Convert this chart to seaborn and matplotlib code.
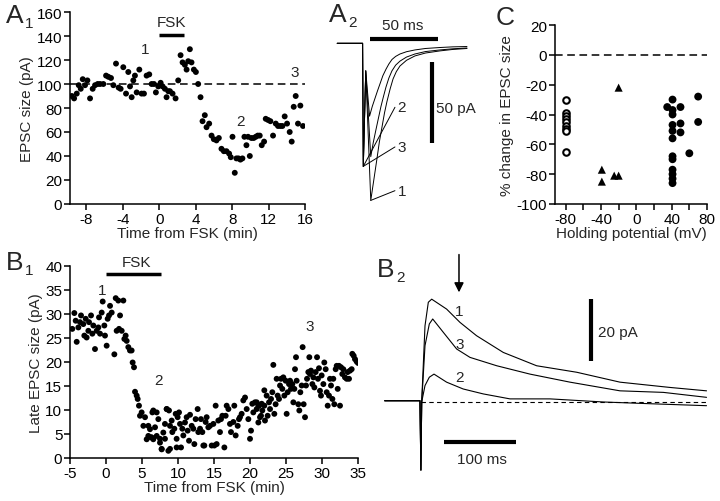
import matplotlib
matplotlib.use('Agg')
import matplotlib.pyplot as plt
import seaborn as sns
import pandas as pd

# ---------------- A1: EPSC size over time (FSK) ----------------
a1_time = [-9.6, -9.35, -9.06, -8.84, -8.62, -8.4, -8.15, -7.89, -7.6, -7.31,
           -7.05, -6.76, -6.5, -6.14, -5.84, -5.59, -5.3, -5.04, -4.75, -4.46,
           -4.24, -3.95, -3.65, -3.4, -3.21, -3.03, -2.85, -2.67, -2.48, -2.19,
           -1.94, -1.68, -1.39, -1.1, -0.84, -0.58, -0.37, -0.11, 0.15, 0.37,
           0.62, 0.8, 0.99, 1.17, 1.46, 1.79, 2.08, 2.34, 2.56, 2.81,
           3.0, 3.18, 3.36, 3.54, 3.8, 4.02, 4.27, 4.53, 4.75, 5.0,
           5.19, 5.48, 5.74, 5.99, 6.28, 6.54, 6.83, 7.09, 7.38, 7.67,
           7.85, 8.04, 8.29, 8.47, 8.69, 8.91, 9.13, 9.35, 9.57, 9.75,
           9.94, 10.12, 10.37, 10.59, 10.81, 11.03, 11.25, 11.51, 11.69, 11.95,
           12.2, 12.49, 12.79, 13.04, 13.3, 13.52, 13.77, 14.03, 14.32, 14.54,
           14.76, 14.98, 15.23, 15.49, 15.78]
a1_epsc = [90, 88, 92, 99, 96, 104, 99, 103, 88, 96,
           99, 100, 100, 100, 107, 106, 105, 99, 117, 97,
           96, 114, 92, 110, 98, 89, 103, 107, 93, 112,
           92, 92, 107, 108, 100, 100, 93, 98, 101, 98,
           96, 89, 94, 94, 92, 88, 103, 124, 118, 116,
           112, 119, 129, 118, 112, 110, 100, 89, 69, 74,
           64, 67, 57, 54, 53, 55, 46, 44, 44, 42,
           39, 56, 26, 38, 38, 37, 38, 56, 49, 56,
           40, 55, 55, 56, 57, 57, 49, 52, 71, 70,
           69, 57, 67, 65, 65, 65, 73, 67, 60, 52,
           81, 90, 67, 82, 65]

# ---------------- A2: averaged EPSC traces (ms, pA) ----------------
a2_t1 = [-19, -0.3, 0.2, 2.0, 5.7, 8.0, 10.3, 12.0, 13.9, 15.8, 17.6, 20.0, 22.1,
         24.5, 27.2, 32.0, 38.2, 46.0, 56.6, 66.0, 76.5]
a2_i1 = [0, 0, -76, -17, -97, -84, -71, -61, -52, -43, -36, -28, -22,
         -17.5, -14, -10.5, -7.8, -6.0, -4.7, -3.8, -3.2]
a2_t3 = [-19, -0.3, 0.2, 2.0, 5.7, 7.6, 9.6, 11.4, 13.2, 15.0, 16.9, 19.0, 21.3,
         24.0, 27.2, 32.0, 38.2, 46.0, 56.6, 66.0, 76.5]
a2_i3 = [0, 0, -76, -17, -70, -61, -53, -46, -39, -33, -27, -21.5, -17,
         -13.5, -11, -8.5, -6.6, -5.1, -4.1, -3.4, -2.9]
a2_t2 = [-19, -0.3, 0.2, 2.0, 4.8, 6.8, 8.8, 10.6, 12.5, 14.6, 16.9, 19.0, 21.3,
         24.0, 27.2, 32.0, 38.2, 46.0, 56.6, 66.0, 76.5]
a2_i2 = [0, 0, -76, -17, -45, -39, -34, -29.5, -25, -20, -16, -12.8, -10,
         -8.1, -6.6, -5.2, -4.1, -3.2, -2.6, -2.2, -2.0]

# ---------------- C: % change vs holding potential ----------------
c_open_v = [-80, -80, -80, -80, -80, -80, -80, -80, -80]
c_open_y = [-30, -39, -41, -43, -45, -48, -50, -51, -65]
c_tri_v = [-39, -39, -25, -20, -20]
c_tri_y = [-77, -85, -81, -81, -22]
c_fill_v = [35, 41, 41, 41, 41, 41, 41, 41, 41, 41, 41, 41, 41, 50, 50, 50, 60, 70, 70]
c_fill_y = [-35, -30, -37, -40, -47, -51, -56, -68, -70, -77, -80, -83, -86,
            -35, -46, -52, -66, -28, -45]

# ---------------- B1: late EPSC size over time ----------------
b1_time = [-4.68, -4.4, -4.21, -4.07, -3.84, -3.61, -3.47, -3.15, -3.01, -2.82,
           -2.69, -2.45, -2.36, -2.08, -1.9, -1.76, -1.53, -1.3, -1.06, -0.97,
           -0.83, -0.6, -0.46, -0.23, -0.14, 0.09, 0.23, 0.42, 0.56, 0.79,
           1.16, 1.35, 1.48, 1.71, 1.81, 1.95, 2.18, 2.41, 2.55, 2.73,
           2.87, 3.1, 3.33, 3.56, 3.7, 3.89, 4.03, 4.26, 4.4, 4.58,
           4.72, 4.95, 5.19, 5.42, 5.65, 5.88, 5.88, 6.11, 6.25, 6.34,
           6.44, 6.57, 6.57, 6.81, 7.04, 7.04, 7.27, 7.5, 7.5, 7.73,
           7.73, 7.96, 8.19, 8.19, 8.43, 8.66, 8.43, 8.75, 8.89, 8.89,
           9.12, 9.21, 9.49, 9.68, 9.81, 9.81, 9.95, 10.14, 10.28, 10.42,
           10.6, 10.74, 10.97, 11.2, 11.34, 11.53, 11.67, 11.9, 12.13, 12.27,
           12.45, 12.73, 12.82, 13.06, 13.19, 13.38, 13.52, 13.66, 13.84, 13.98,
           14.21, 14.44, 14.68, 14.91, 15.05, 15.23, 15.37, 15.6, 15.83, 15.97,
           16.16, 16.44, 16.62, 16.76, 17.0, 17.22, 17.36, 17.69, 17.82, 18.01,
           18.29, 18.47, 18.61, 18.84, 19.07, 19.31, 19.54, 19.77, 20.0, 20.14,
           20.32, 20.46, 20.69, 20.93, 21.16, 21.39, 21.62, 21.99,
           20.93, 21.16, 21.25, 21.53, 21.71, 21.99, 22.08, 22.31, 22.45, 22.64,
           22.78, 22.92, 23.1, 23.24, 23.38, 23.56, 23.7, 23.84, 24.03, 24.17,
           24.31, 24.49, 24.63, 24.77, 24.95, 25.09, 25.23, 25.42, 25.56, 25.69,
           25.88, 26.02, 26.16, 26.25, 26.39, 26.48, 26.71, 26.85, 26.99, 27.18,
           27.31, 27.45, 27.64, 27.78, 27.92, 28.1, 28.24, 28.33, 28.47, 28.66,
           28.8, 28.94, 29.12, 29.31, 29.44, 29.58, 29.72, 29.86, 29.95, 30.19,
           30.32, 30.51, 30.65, 30.79, 30.97, 31.11, 31.25, 31.44, 31.57, 31.71,
           31.9, 32.04, 32.18, 32.36, 32.5, 32.64, 32.82, 32.96, 33.19, 33.43,
           33.56, 33.75, 33.89, 34.12, 34.21, 34.4, 34.58, 34.81, 35.0]
b1_late = [26.9, 30.2, 28.6, 24.2, 27.2, 28.3, 29.7, 27.9, 25.5, 29.0,
           25.1, 26.5, 28.3, 29.7, 25.9, 27.6, 22.7, 26.5, 27.2, 29.3,
           25.9, 30.3, 32.6, 27.6, 25.5, 23.4, 29.0, 29.7, 31.7, 30.3,
           21.6, 33.3, 26.5, 32.8, 26.9, 29.7, 26.5, 32.8, 24.8, 25.5,
           24.4, 23.1, 22.4, 22.4, 19.9, 18.9, 13.8, 13.0, 12.3, 10.9,
           8.8, 9.5, 6.7, 8.5, 3.9, 6.7, 4.6, 6.0, 4.3, 4.3,
           9.5, 3.9, 9.9, 6.4, 9.5, 4.6, 8.1, 3.2, 4.0, 1.8,
           1.9, 5.3, 7.1, 4.0, 10.2, 1.5, 10.2, 9.9, 6.7, 1.9,
           7.8, 5.4, 6.1, 9.2, 4.0, 2.2, 8.5, 9.5, 7.1, 2.2,
           6.1, 4.7, 7.4, 8.5, 5.7, 3.6, 9.0, 6.7, 6.1, 2.9,
           8.1, 10.2, 5.4, 6.1, 8.1, 5.4, 2.6, 2.6, 7.5, 8.5,
           6.4, 6.7, 2.6, 7.1, 2.6, 10.9, 2.9, 7.8, 5.4, 8.1,
           8.8, 2.2, 8.8, 10.9, 10.2, 7.1, 5.4, 7.5, 10.9, 4.7,
           6.7, 8.1, 8.5, 9.2, 12.0, 12.6, 10.2, 8.1, 4.0, 5.7,
           11.3, 9.5, 11.6, 10.2, 10.9, 8.5, 11.3, 14.1,
           11.6, 7.4, 10.9, 8.8, 9.9, 10.9, 7.8, 13.0, 8.8, 11.6,
           10.2, 12.3, 13.7, 19.4, 9.2, 11.2, 16.5, 13.0, 12.3, 15.1,
           16.5, 14.4, 16.8, 13.0, 16.1, 9.2, 13.7, 15.4, 16.1, 14.4,
           15.4, 11.6, 14.4, 18.5, 21.0, 16.1, 11.2, 9.9, 13.7, 15.1,
           23.1, 11.2, 8.5, 15.1, 16.5, 17.9, 21.0, 17.5, 18.2, 15.4,
           16.8, 14.7, 17.9, 21.0, 16.5, 18.7, 14.0, 13.0, 17.2, 15.4,
           19.9, 18.5, 13.7, 10.9, 13.0, 16.5, 15.1, 12.3, 16.5, 11.2,
           18.5, 19.2, 14.4, 19.2, 10.9, 18.9, 17.5, 18.5, 16.8, 16.5,
           17.9, 16.5, 18.2, 18.5, 21.7, 21.3, 20.6, 20.1, 19.8]

# ---------------- B2: late EPSC traces (ms, pA) ----------------
b2_t1 = [-50, -1, 0.3, 1.4, 6, 10.6, 15.3, 36, 54.6, 77.6, 114.7, 161, 216.7, 276.8, 346, 397]
b2_i1 = [0.4, 0.4, -22, 0, 24.6, 32.2, 33.2, 30, 25.7, 21.4, 16.0, 11.7, 9.6, 6.4, 4.7, 3.6]
b2_t3 = [-50, -1, 0.3, 1.4, 6, 12, 16.7, 31.4, 50, 68.5, 105.6, 151.8, 207.4, 276.8, 337, 397]
b2_i3 = [0.4, 0.4, -22, 0, 18.2, 25.2, 26.8, 22.5, 17.1, 14.4, 11.7, 9.0, 6.4, 3.6, 3.1, 1.5]
b2_t2 = [-50, -1, 0.3, 1.4, 6, 12, 18.5, 36, 59, 87, 124, 179.6, 253.6, 323, 397]
b2_i2 = [0.4, 0.4, -22, 0, 5.3, 8, 9.0, 6.4, 4.2, 2.6, 1.0, 1.0, 0, -0.6, -1.2]

W, H = 720, 502
FS = 11


def rect(x0, y0, x1, y1):
    # pixel box (top-left origin) -> figure fraction
    return [x0 / W, 1 - y1 / H, (x1 - x0) / W, (y1 - y0) / H]


sns.set_style("ticks")
plt.rcParams['font.family'] = ['Liberation Sans', 'DejaVu Sans']
plt.rcParams['axes.unicode_minus'] = False
plt.rcParams['font.size'] = FS

fig = plt.figure(figsize=(7.2, 5.02), dpi=100)


def style_axes(ax):
    sns.despine(ax=ax)
    for s in ['left', 'bottom']:
        ax.spines[s].set_linewidth(1.1)
        ax.spines[s].set_color('black')
    ax.tick_params(direction='out', length=4, width=1.1, labelsize=FS, colors='black', pad=1.5)


# ---- A1 ----
ax1 = fig.add_axes(rect(70, 13, 305, 205))
sns.scatterplot(x=a1_time, y=a1_epsc, ax=ax1, color='black', s=18, edgecolor='none')
ax1.axhline(100, color='black', lw=1.1, ls=(0, (5, 3)))
ax1.set_xlim(-9.8, 16)
ax1.set_ylim(0, 160)
ax1.set_xticks([-8, -4, 0, 4, 8, 12, 16])
ax1.set_yticks(range(0, 161, 20))
ax1.set_xlabel('Time from FSK (min)', fontsize=FS, labelpad=0)
ax1.set_ylabel('EPSC size (pA)', fontsize=FS, labelpad=2)
ax1.plot([0, 2.74], [141, 141], color='black', lw=2.5, clip_on=False, solid_capstyle='butt')
ax1.text(1.35, 146, 'FSK', ha='center', va='bottom', fontsize=FS)
ax1.text(-1.5, 129, '1', ha='center', va='center', fontsize=FS)
ax1.text(8.9, 69, '2', ha='center', va='center', fontsize=FS)
ax1.text(14.9, 110, '3', ha='center', va='center', fontsize=FS)
style_axes(ax1)

# ---- A2 ----
ax2 = fig.add_axes(rect(330, 20, 475, 215))
for t, i in [(a2_t1, a2_i1), (a2_t3, a2_i3), (a2_t2, a2_i2)]:
    sns.lineplot(x=t, y=i, ax=ax2, color='black', lw=0.7, sort=False, estimator=None)
for lbl, t, i, ly in [('1', a2_t1, a2_i1, -91), ('3', a2_t3, a2_i3, -64), ('2', a2_t2, a2_i2, -39.5)]:
    k = i.index(min(i))
    ax2.plot([t[k], 23.5], [i[k], ly], color='black', lw=0.7)
    ax2.text(25.5, ly, lbl, ha='left', va='center', fontsize=FS)
ax2.plot([5.1, 5.1 + 50], [2.7, 2.7], color='black', lw=3, solid_capstyle='butt')
ax2.text(29.5, 7, '50 ms', ha='center', va='bottom', fontsize=FS)
ax2.plot([50.5, 50.5], [-11.7, -11.7 - 50], color='black', lw=3, solid_capstyle='butt')
ax2.text(53.5, -40, '50 pA', ha='left', va='center', fontsize=FS)
ax2.set_xlim(-24.3, 82.4)
ax2.set_ylim(-105.4, 15)
ax2.axis('off')

# ---- C ----
ax3 = fig.add_axes(rect(555, 26, 707, 205))
sns.scatterplot(x=c_open_v, y=c_open_y, ax=ax3, marker='o', s=22, facecolor='white',
                edgecolor='black', linewidth=1.5)
sns.scatterplot(x=c_tri_v, y=c_tri_y, ax=ax3, marker='^', s=34, color='black', edgecolor='none')
sns.scatterplot(x=c_fill_v, y=c_fill_y, ax=ax3, marker='o', s=32, color='black', edgecolor='none')
ax3.axhline(0, color='black', lw=1.1, ls=(0, (5, 3)))
ax3.set_xlim(-92, 80)
ax3.set_ylim(-100, 20)
ax3.set_xticks(range(-80, 81, 20))
ax3.set_xticklabels(['-80', '', '-40', '', '0', '', '40', '', '80'])
ax3.set_yticks(range(-100, 21, 20))
ax3.set_xlabel('Holding potential (mV)', fontsize=FS, labelpad=0)
ax3.set_ylabel('% change in EPSC size', fontsize=FS, labelpad=2)
style_axes(ax3)

# ---- B1 ----
ax4 = fig.add_axes(rect(70, 267, 358, 459))
sns.scatterplot(x=b1_time, y=b1_late, ax=ax4, color='black', s=18, edgecolor='none')
ax4.set_xlim(-5, 35)
ax4.set_ylim(0, 40)
ax4.set_xticks(range(-5, 36, 5))
ax4.set_yticks(range(0, 41, 5))
ax4.set_xlabel('Time from FSK (min)', fontsize=FS, labelpad=0)
ax4.set_ylabel('Late EPSC size (pA)', fontsize=FS, labelpad=2)
ax4.plot([0, 7.6], [38.3, 38.3], color='black', lw=2.5, clip_on=False, solid_capstyle='butt')
ax4.text(4.3, 39.3, 'FSK', ha='center', va='bottom', fontsize=FS)
ax4.text(-0.5, 35, '1', ha='center', va='center', fontsize=FS)
ax4.text(7.3, 16.3, '2', ha='center', va='center', fontsize=FS)
ax4.text(28.3, 27.5, '3', ha='center', va='center', fontsize=FS)
style_axes(ax4)

# ---- B2 ----
ax5 = fig.add_axes(rect(380, 250, 720, 490))
for t, i in [(b2_t1, b2_i1), (b2_t3, b2_i3), (b2_t2, b2_i2)]:
    sns.lineplot(x=t, y=i, ax=ax5, color='black', lw=0.8, sort=False, estimator=None)
ax5.plot([0, 397], [0, 0], color='black', lw=0.8, ls=(0, (4, 3)))
ax5.text(53.6, 29.5, '1', ha='center', va='center', fontsize=FS)
ax5.text(53.6, 18.7, '3', ha='center', va='center', fontsize=FS)
ax5.text(53.6, 8, '2', ha='center', va='center', fontsize=FS)
ax5.annotate('', xy=(53.2, 34.5), xytext=(53.2, 48.5),
             arrowprops=dict(arrowstyle='-|>', color='black', lw=1.1, mutation_scale=14))
ax5.plot([236.5, 236.5], [13.1, 13.1 + 20], color='black', lw=3, solid_capstyle='butt')
ax5.text(246, 22.5, '20 pA', ha='left', va='center', fontsize=FS)
ax5.plot([32.4, 32.4 + 100], [-13, -13], color='black', lw=3, solid_capstyle='butt')
ax5.text(84.7, -16, '100 ms', ha='center', va='top', fontsize=FS)
ax5.set_xlim(-56.5, 415.7)
ax5.set_ylim(-28.1, 49.4)
ax5.axis('off')


# ---- panel letters ----
def panel(x, y, letter, sub=None):
    fig.text(x / W, 1 - y / H, letter, fontsize=19, va='baseline', ha='left')
    if sub:
        fig.text((x + 19) / W, 1 - (y + 5) / H, sub, fontsize=11, va='baseline', ha='left')


panel(6, 23, 'A', '1')
panel(329, 22, 'A', '2')
fig.text(496 / W, 1 - 25 / H, 'C', fontsize=19, va='baseline', ha='left')
panel(6, 270, 'B', '1')
panel(377, 277, 'B', '2')

fig.savefig('out.png', dpi=100)
